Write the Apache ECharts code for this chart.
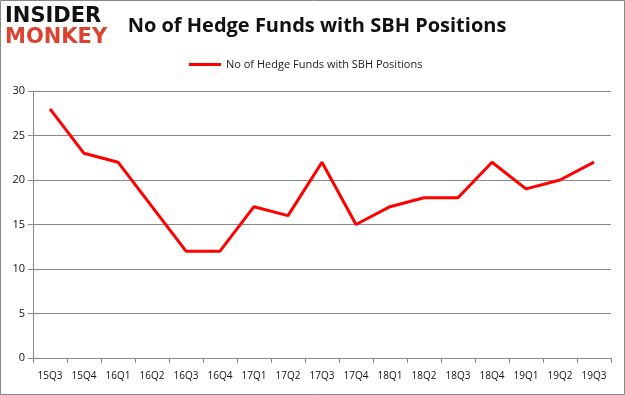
<!DOCTYPE html>
<html><head><meta charset="utf-8">
<script src="https://cdn.jsdelivr.net/npm/echarts@6/dist/echarts.min.js"></script>
<style>html,body{margin:0;padding:0;background:#fff}#c{width:625px;height:395px}</style>
</head><body><div id="c"></div>
<script>
const categories = ['15Q3','15Q4','16Q1','16Q2','16Q3','16Q4','17Q1','17Q2','17Q3','17Q4','18Q1','18Q2','18Q3','18Q4','19Q1','19Q2','19Q3'];
const values = [28,23,22,17,12,12,17,16,22,15,17,18,18,22,19,20,22];
const seriesName = 'No of Hedge Funds with SBH Positions';
const titleText = 'No of Hedge Funds with SBH Positions';
const chart = echarts.init(document.getElementById('c'));
chart.setOption({
  animation:false,
  graphic:[
    {type:'rect',shape:{x:0.5,y:0.5,width:624,height:394},style:{fill:'none',stroke:'#888',lineWidth:1}},
    {type:'text',left:5,top:6,style:{text:'INSIDER',fill:'#111',font:'bold 21px "DejaVu Sans"'}},
    {type:'text',left:5,top:27,style:{text:'MONKEY',fill:'#d9432f',font:'bold 21px "DejaVu Sans"'}}
  ],
  title:{text:titleText,left:312,textAlign:'center',top:11,textStyle:{fontFamily:'Open Sans',fontWeight:'bold',fontSize:20,color:'#111'}},
  legend:{top:54,left:184,itemWidth:32,itemHeight:3,icon:'rect',textStyle:{fontFamily:'Open Sans',fontSize:11,color:'#222'},data:[seriesName]},
  grid:{left:33,right:14,top:91,bottom:37},
  xAxis:{type:'category',data:categories,boundaryGap:true,
    axisLine:{lineStyle:{color:'#888'}},axisTick:{show:true,alignWithLabel:false,interval:0,length:5,lineStyle:{color:'#888'}},
    axisLabel:{interval:0,color:'#111',fontFamily:'Open Sans',fontSize:10,margin:13}},
  yAxis:{type:'value',min:0,max:30,interval:5,
    axisLine:{show:true,lineStyle:{color:'#888'}},axisTick:{show:true,length:5,lineStyle:{color:'#888'}},
    axisLabel:{color:'#111',fontFamily:'Open Sans',fontSize:11,margin:8},
    splitLine:{lineStyle:{color:'#888'}}},
  series:[{name:seriesName,type:'line',data:values,symbol:'none',lineStyle:{color:'#ff0000',width:3},itemStyle:{color:'#ff0000'}}]
});
</script></body></html>
